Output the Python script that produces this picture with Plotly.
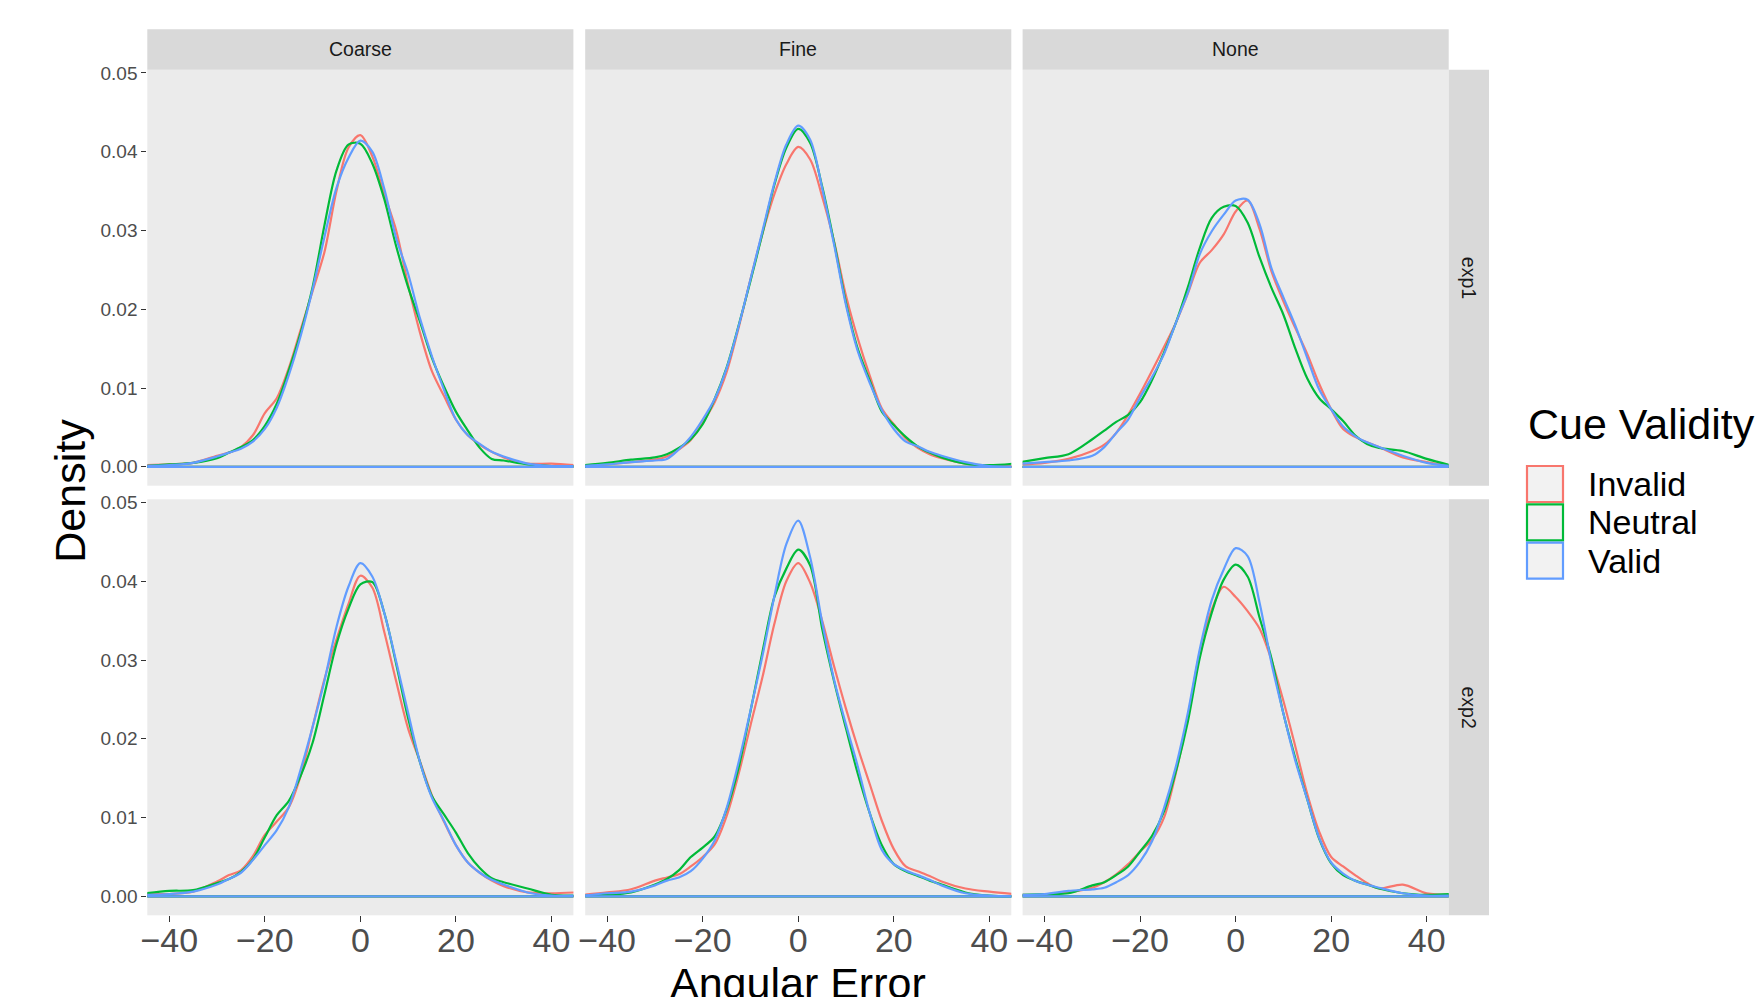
import plotly.graph_objects as go

# ---------------- data (density values) ----------------
angular_error = [-45, -40, -35, -30, -27.5, -25, -22.5, -20, -17.5, -15, -12.5, -10, -7.5, -5, -2.5,
                 0, 2.5, 5, 7.5, 10, 12.5, 15, 17.5, 20, 22.5, 25, 27.5, 30, 35, 40, 45]

# exp1 / Coarse
coarse_exp1_invalid = [0.0002, 0.0003, 0.0005, 0.0014, 0.0018, 0.0025, 0.0040, 0.0068, 0.0087, 0.0125, 0.0174, 0.0223, 0.0273, 0.0350, 0.0405,
                       0.0421, 0.0394, 0.0346, 0.0300, 0.0231, 0.0170, 0.0121, 0.0090, 0.0060, 0.0040, 0.0028, 0.0019, 0.0012, 0.0004, 0.0004, 0.0002]
coarse_exp1_neutral = [0.0001, 0.0003, 0.0005, 0.0011, 0.0018, 0.0025, 0.0034, 0.0052, 0.0080, 0.0122, 0.0170, 0.0228, 0.0307, 0.0376, 0.0409,
                       0.0410, 0.0385, 0.0340, 0.0280, 0.0228, 0.0184, 0.0138, 0.0102, 0.0070, 0.0046, 0.0024, 0.0010, 0.0008, 0.0003, 0.0001, 0.0001]
coarse_exp1_valid = [0.0001, 0.0002, 0.0005, 0.0013, 0.0018, 0.0023, 0.0032, 0.0048, 0.0075, 0.0116, 0.0166, 0.0225, 0.0292, 0.0354, 0.0392,
                     0.0414, 0.0400, 0.0353, 0.0290, 0.0245, 0.0188, 0.0140, 0.0098, 0.0060, 0.0040, 0.0029, 0.0019, 0.0013, 0.0004, 0.0001, 0.0001]
# exp1 / Fine
fine_exp1_invalid = [0.0001, 0.0003, 0.0006, 0.0009, 0.0013, 0.0022, 0.0034, 0.0056, 0.0082, 0.0120, 0.0176, 0.0238, 0.0296, 0.0346, 0.0384,
                     0.0406, 0.0390, 0.0343, 0.0286, 0.0217, 0.0162, 0.0115, 0.0074, 0.0054, 0.0036, 0.0024, 0.0016, 0.0011, 0.0004, 0.0001, 0.0001]
fine_exp1_neutral = [0.0002, 0.0005, 0.0009, 0.0012, 0.0016, 0.0024, 0.0035, 0.0054, 0.0086, 0.0126, 0.0179, 0.0236, 0.0296, 0.0358, 0.0405,
                     0.0429, 0.0411, 0.0356, 0.0285, 0.0208, 0.0149, 0.0109, 0.0070, 0.0053, 0.0038, 0.0026, 0.0018, 0.0012, 0.0004, 0.0002, 0.0004]
fine_exp1_valid = [0.0001, 0.0003, 0.0006, 0.0008, 0.0010, 0.0022, 0.0038, 0.0060, 0.0086, 0.0125, 0.0178, 0.0238, 0.0299, 0.0360, 0.0409,
                   0.0433, 0.0415, 0.0354, 0.0282, 0.0205, 0.0146, 0.0106, 0.0072, 0.0048, 0.0032, 0.0026, 0.0019, 0.0014, 0.0006, 0.0001, 0.0000]
# exp1 / None
none_exp1_invalid = [0.0003, 0.0005, 0.0010, 0.0020, 0.0028, 0.0043, 0.0066, 0.0093, 0.0122, 0.0152, 0.0183, 0.0220, 0.0259, 0.0275, 0.0295,
                     0.0324, 0.0338, 0.0302, 0.0248, 0.0210, 0.0176, 0.0143, 0.0105, 0.0073, 0.0048, 0.0038, 0.0031, 0.0025, 0.0012, 0.0006, 0.0001]
none_exp1_neutral = [0.0006, 0.0011, 0.0016, 0.0035, 0.0046, 0.0057, 0.0066, 0.0082, 0.0110, 0.0145, 0.0183, 0.0228, 0.0278, 0.0316, 0.0330,
                     0.0331, 0.0310, 0.0266, 0.0227, 0.0193, 0.0150, 0.0112, 0.0087, 0.0073, 0.0058, 0.0040, 0.0029, 0.0024, 0.0020, 0.0010, 0.0002]
none_exp1_valid = [0.0004, 0.0006, 0.0008, 0.0014, 0.0025, 0.0043, 0.0060, 0.0088, 0.0114, 0.0143, 0.0183, 0.0221, 0.0270, 0.0299, 0.0320,
                   0.0338, 0.0339, 0.0308, 0.0252, 0.0215, 0.0179, 0.0138, 0.0098, 0.0073, 0.0051, 0.0039, 0.0031, 0.0025, 0.0014, 0.0005, 0.0001]
# exp2 / Coarse
coarse_exp2_invalid = [0.0003, 0.0003, 0.0006, 0.0019, 0.0027, 0.0033, 0.0051, 0.0078, 0.0095, 0.0113, 0.0153, 0.0215, 0.0276, 0.0326, 0.0371,
                       0.0407, 0.0392, 0.0336, 0.0273, 0.0213, 0.0171, 0.0128, 0.0095, 0.0065, 0.0043, 0.0030, 0.0020, 0.0013, 0.0005, 0.0004, 0.0005]
coarse_exp2_neutral = [0.0004, 0.0007, 0.0008, 0.0017, 0.0022, 0.0031, 0.0047, 0.0075, 0.0103, 0.0121, 0.0153, 0.0195, 0.0257, 0.0320, 0.0365,
                       0.0396, 0.0399, 0.0360, 0.0295, 0.0226, 0.0170, 0.0127, 0.0104, 0.0081, 0.0055, 0.0036, 0.0023, 0.0018, 0.0010, 0.0002, 0.0001]
coarse_exp2_valid = [0.0002, 0.0003, 0.0006, 0.0015, 0.0022, 0.0030, 0.0046, 0.0065, 0.0084, 0.0113, 0.0161, 0.0215, 0.0274, 0.0342, 0.0393,
                     0.0423, 0.0406, 0.0360, 0.0298, 0.0233, 0.0170, 0.0125, 0.0096, 0.0065, 0.0043, 0.0030, 0.0021, 0.0015, 0.0005, 0.0001, 0.0001]
# exp2 / Fine
fine_exp2_invalid = [0.0002, 0.0005, 0.0009, 0.0020, 0.0024, 0.0028, 0.0038, 0.0050, 0.0066, 0.0102, 0.0155, 0.0217, 0.0278, 0.0346, 0.0400,
                     0.0423, 0.0398, 0.0350, 0.0292, 0.0238, 0.0188, 0.0142, 0.0096, 0.0060, 0.0038, 0.0032, 0.0026, 0.0019, 0.0010, 0.0006, 0.0003]
fine_exp2_neutral = [0.0001, 0.0002, 0.0005, 0.0015, 0.0022, 0.0033, 0.0050, 0.0062, 0.0076, 0.0110, 0.0163, 0.0235, 0.0310, 0.0380, 0.0416,
                     0.0440, 0.0420, 0.0340, 0.0273, 0.0213, 0.0155, 0.0105, 0.0065, 0.0041, 0.0032, 0.0026, 0.0020, 0.0015, 0.0005, 0.0001, 0.0000]
fine_exp2_valid = [0.0001, 0.0004, 0.0006, 0.0014, 0.0020, 0.0024, 0.0032, 0.0048, 0.0071, 0.0112, 0.0170, 0.0236, 0.0305, 0.0381, 0.0447,
                   0.0477, 0.0430, 0.0348, 0.0275, 0.0218, 0.0164, 0.0105, 0.0059, 0.0041, 0.0033, 0.0027, 0.0021, 0.0014, 0.0004, 0.0001, 0.0000]
# exp2 / None
none_exp2_invalid = [0.0002, 0.0002, 0.0005, 0.0011, 0.0018, 0.0028, 0.0041, 0.0057, 0.0072, 0.0100, 0.0157, 0.0228, 0.0310, 0.0364, 0.0393,
                     0.0380, 0.0362, 0.0340, 0.0300, 0.0248, 0.0190, 0.0130, 0.0082, 0.0050, 0.0038, 0.0027, 0.0017, 0.0010, 0.0015, 0.0004, 0.0002]
none_exp2_neutral = [0.0002, 0.0003, 0.0004, 0.0014, 0.0018, 0.0027, 0.0038, 0.0057, 0.0077, 0.0108, 0.0159, 0.0222, 0.0303, 0.0360, 0.0402,
                     0.0421, 0.0406, 0.0354, 0.0302, 0.0232, 0.0175, 0.0123, 0.0073, 0.0042, 0.0027, 0.0020, 0.0015, 0.0010, 0.0004, 0.0002, 0.0003]
none_exp2_valid = [0.0002, 0.0003, 0.0007, 0.0009, 0.0011, 0.0018, 0.0027, 0.0044, 0.0070, 0.0112, 0.0165, 0.0233, 0.0314, 0.0376, 0.0415,
                   0.0442, 0.0432, 0.0373, 0.0296, 0.0232, 0.0172, 0.0123, 0.0074, 0.0043, 0.0029, 0.0020, 0.0015, 0.0011, 0.0004, 0.0001, 0.0001]

experiments = ["exp1", "exp2"]
cue_types = ["Coarse", "Fine", "None"]
validity_levels = ["Invalid", "Neutral", "Valid"]
validity_colors = ["#F8766D", "#00BA38", "#619CFF"]

panels = {
    ("exp1", "Coarse"): [coarse_exp1_invalid, coarse_exp1_neutral, coarse_exp1_valid],
    ("exp1", "Fine"): [fine_exp1_invalid, fine_exp1_neutral, fine_exp1_valid],
    ("exp1", "None"): [none_exp1_invalid, none_exp1_neutral, none_exp1_valid],
    ("exp2", "Coarse"): [coarse_exp2_invalid, coarse_exp2_neutral, coarse_exp2_valid],
    ("exp2", "Fine"): [fine_exp2_invalid, fine_exp2_neutral, fine_exp2_valid],
    ("exp2", "None"): [none_exp2_invalid, none_exp2_neutral, none_exp2_valid],
}

x_ticks = [-40, -20, 0, 20, 40]
y_ticks = [0.0, 0.01, 0.02, 0.03, 0.04, 0.05]
y_tick_text = ["0.00", "0.01", "0.02", "0.03", "0.04", "0.05"]

# ---------------- layout geometry ----------------
W, H = 1763, 997
FONT = "Liberation Sans, Arial, sans-serif"


def fx(p):
    return p / W


def fy(p):
    return 1 - p / H


col_px = [(147.3, 573.4), (585.2, 1011.3), (1022.6, 1448.7)]
row_px = [(69.7, 485.7), (499.3, 915.3)]
strip_top = (29.2, 69.7)
strip_right = (1448.7, 1489.0)

fig = go.Figure()
layout = dict(
    width=W, height=H,
    margin=dict(l=0, r=0, t=0, b=0, autoexpand=False),
    paper_bgcolor="white",
    plot_bgcolor="#EBEBEB",
    showlegend=False,
    font=dict(family=FONT),
)

shapes = []
annotations = []

for r, exp in enumerate(experiments):
    for c, cue in enumerate(cue_types):
        k = r * 3 + c + 1
        xa = "x" if k == 1 else f"x{k}"
        ya = "y" if k == 1 else f"y{k}"
        for lvl, col, dens in zip(validity_levels, validity_colors, panels[(exp, cue)]):
            fig.add_trace(go.Scatter(
                x=angular_error, y=dens, mode="lines", name=lvl,
                line=dict(color=col, width=2.2, shape="spline", smoothing=0.9),
                xaxis=xa, yaxis=ya, hoverinfo="skip"))
            fig.add_trace(go.Scatter(
                x=[angular_error[0], angular_error[-1]], y=[0, 0], mode="lines", name=lvl,
                line=dict(color=col, width=2.2),
                xaxis=xa, yaxis=ya, hoverinfo="skip"))
        x0, x1 = col_px[c]
        y0, y1 = row_px[r]
        layout["xaxis" if k == 1 else f"xaxis{k}"] = dict(
            domain=[fx(x0), fx(x1)], anchor=ya, range=[-44.6, 44.6],
            tickvals=x_ticks, showgrid=False, zeroline=False, showline=False,
            ticks="outside" if r == 1 else "", ticklen=6, tickwidth=1.4, tickcolor="#333333",
            showticklabels=(r == 1), ticklabelstandoff=-11,
            tickfont=dict(size=34, color="#4D4D4D", family=FONT),
        )
        layout["yaxis" if k == 1 else f"yaxis{k}"] = dict(
            domain=[fy(y1), fy(y0)], anchor=xa, range=[-0.0024, 0.0504],
            tickvals=y_ticks, ticktext=y_tick_text, showgrid=False, zeroline=False, showline=False,
            ticks="outside" if c == 0 else "", ticklen=5, tickwidth=1.4, tickcolor="#333333",
            showticklabels=(c == 0),
            tickfont=dict(size=19, color="#4D4D4D", family=FONT),
        )

# strips on top
for c, cue in enumerate(cue_types):
    x0, x1 = col_px[c]
    shapes.append(dict(type="rect", xref="paper", yref="paper",
                       x0=fx(x0), x1=fx(x1), y0=fy(strip_top[1]), y1=fy(strip_top[0]),
                       fillcolor="#D9D9D9", line=dict(width=0), layer="below"))
    annotations.append(dict(text=cue, xref="paper", yref="paper",
                            x=fx((x0 + x1) / 2), y=fy(sum(strip_top) / 2),
                            xanchor="center", yanchor="middle", showarrow=False,
                            font=dict(size=19.5, color="#1A1A1A", family=FONT)))
# strips on the right
for r, exp in enumerate(experiments):
    y0, y1 = row_px[r]
    shapes.append(dict(type="rect", xref="paper", yref="paper",
                       x0=fx(strip_right[0]), x1=fx(strip_right[1]), y0=fy(y1), y1=fy(y0),
                       fillcolor="#D9D9D9", line=dict(width=0), layer="below"))
    annotations.append(dict(text=exp, xref="paper", yref="paper",
                            x=fx(sum(strip_right) / 2), y=fy((y0 + y1) / 2),
                            xanchor="center", yanchor="middle", showarrow=False, textangle=90,
                            font=dict(size=19.5, color="#1A1A1A", family=FONT)))

# axis titles
annotations.append(dict(text="Density", xref="paper", yref="paper",
                        x=fx(69.7), y=fy(491), xanchor="center", yanchor="middle",
                        showarrow=False, textangle=-90,
                        font=dict(size=43, color="black", family=FONT)))
annotations.append(dict(text="Angular Error", xref="paper", yref="paper",
                        x=fx(798), y=fy(983), xanchor="center", yanchor="middle",
                        showarrow=False,
                        font=dict(size=43, color="black", family=FONT)))

# legend
annotations.append(dict(text="Cue Validity", xref="paper", yref="paper",
                        x=fx(1526), y=fy(424), xanchor="left", yanchor="middle",
                        showarrow=False, font=dict(size=43, color="black", family=FONT)))
for i, (lvl, col) in enumerate(zip(validity_levels, validity_colors)):
    ky0 = 466 + 38.3 * i
    ky1 = ky0 + 36
    shapes.append(dict(type="rect", xref="paper", yref="paper",
                       x0=fx(1527), x1=fx(1563), y0=fy(ky1), y1=fy(ky0),
                       fillcolor="#F2F2F2", line=dict(color=col, width=2.2)))
    annotations.append(dict(text=lvl, xref="paper", yref="paper",
                            x=fx(1586), y=fy((ky0 + ky1) / 2), xanchor="left", yanchor="middle",
                            showarrow=False, font=dict(size=34, color="black", family=FONT)))

layout["shapes"] = shapes
layout["annotations"] = annotations
fig.update_layout(**layout)
fig.write_html("out.html",
               post_script="document.body.style.margin='0px';document.body.style.overflow='hidden';")
